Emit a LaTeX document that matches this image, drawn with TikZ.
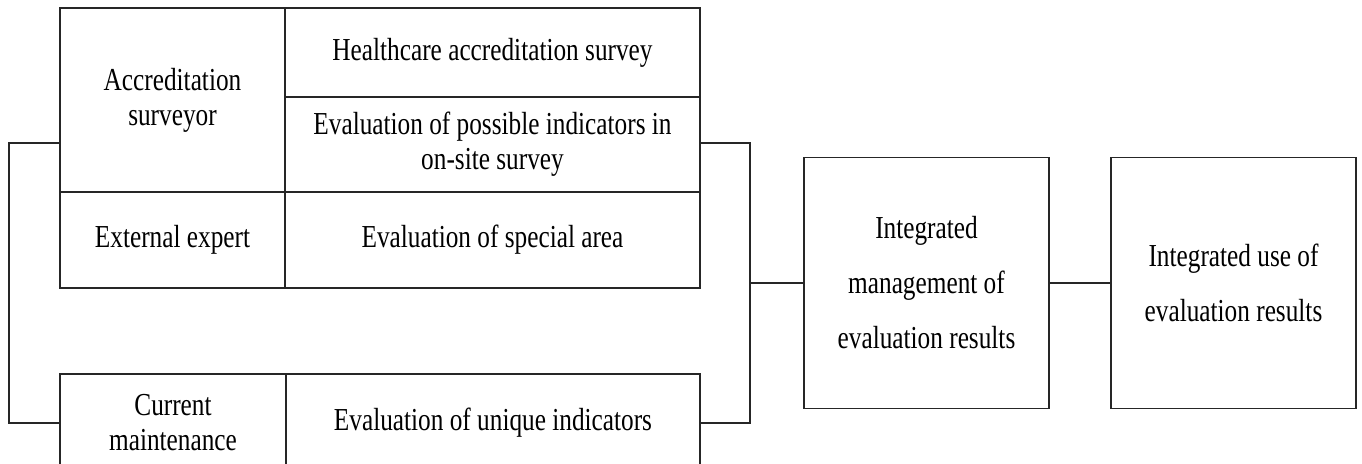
\documentclass[tikz,border=0pt]{standalone}
\usepackage{fontspec}
\setmainfont{Liberation Serif}[FakeStretch=0.79]
\usepackage{tikz}
\usetikzlibrary{positioning}

\begin{document}
\begin{tikzpicture}[x=0.5pt, y=-0.5pt,
      every node/.style={draw=black!85, line width=0.8pt, outer sep=0pt,
        inner sep=0pt, align=center},
      cell/.style 2 args={minimum width=#1*0.5pt, minimum height=#2*0.5pt,
        font=\fontsize{16}{17.5}\selectfont},
      bigbox/.style={minimum width=122.5pt, minimum height=125.5pt,
        font=\fontsize{16}{27.5}\selectfont},
      link/.style={draw=black!85, line width=0.8pt}]
      \clip (0,0) rectangle (1362,464);
      % upper table
      \node[cell={225}{184}] (acc) at (172.5,100) {Accreditation\\surveyor};
      \node[cell={415}{89}, anchor=north west] (health) at (acc.north east)
        {Healthcare accreditation survey};
      \node[cell={415}{95}, below=0pt of health] (possible)
        {Evaluation of possible indicators in\\on-site survey};
      \node[cell={225}{96}, below=0pt of acc] (ext) {External expert};
      \node[cell={415}{96}, right=0pt of ext] (special) {Evaluation of special area};
      % lower table, cut by the page edge
      \node[cell={226}{98}, anchor=north west] (current) at (60,374)
        {Current\\maintenance};
      \node[cell={414}{98}, right=0pt of current] (unique)
        {Evaluation of unique indicators};
      \node[bigbox, anchor=west] (mgmt) at (804,283)
        {Integrated\\management of\\evaluation results};
      \node[bigbox, right=31pt of mgmt] (use) {Integrated use of\\evaluation results};
      \coordinate (busL) at (9,143);
      \coordinate (busR) at (750,143);
      \draw[link] (acc.west |- busL) -- (busL) |- (current.west);
      \draw[link] (possible.east |- busR) -- (busR) |- (unique.east);
      \draw[link] (busR |- mgmt.west) -- (mgmt.west);
      \draw[link] (mgmt) -- (use);
    \end{tikzpicture}
\end{document}
